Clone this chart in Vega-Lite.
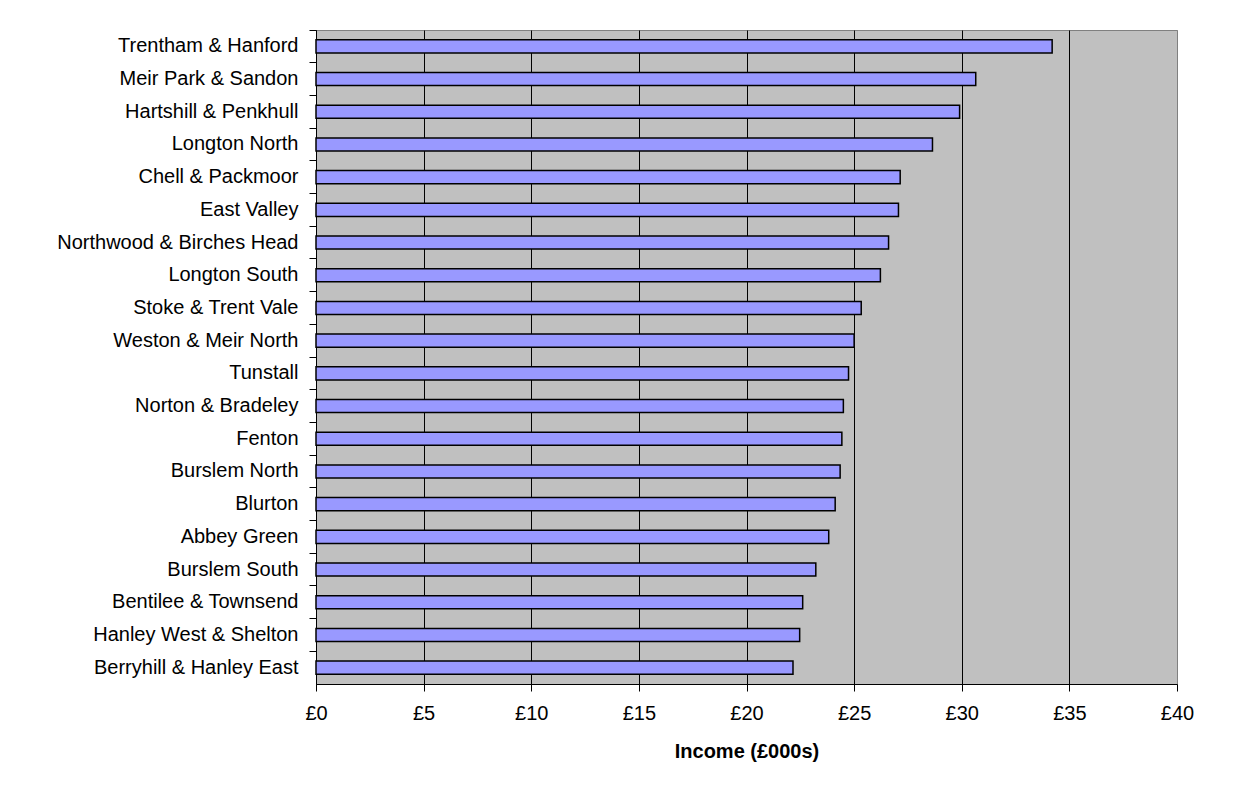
{
  "$schema": "https://vega.github.io/schema/vega-lite/v6.json",
  "width": 861,
  "height": 654,
  "padding": {"left": 56, "top": 29, "right": 5, "bottom": 5},
  "background": "white",
  "config": {
    "view": {"fill": "#C0C0C0", "stroke": "#808080", "strokeWidth": 1},
    "font": "Liberation Sans"
  },
  "data": {
    "values": [
      {"ward": "Trentham & Hanford", "income": 34.2},
      {"ward": "Meir Park & Sandon", "income": 30.65},
      {"ward": "Hartshill & Penkhull", "income": 29.9},
      {"ward": "Longton North", "income": 28.64},
      {"ward": "Chell & Packmoor", "income": 27.14},
      {"ward": "East Valley", "income": 27.06},
      {"ward": "Northwood & Birches Head", "income": 26.6},
      {"ward": "Longton South", "income": 26.22},
      {"ward": "Stoke & Trent Vale", "income": 25.33},
      {"ward": "Weston & Meir North", "income": 25.0},
      {"ward": "Tunstall", "income": 24.74},
      {"ward": "Norton & Bradeley", "income": 24.5},
      {"ward": "Fenton", "income": 24.43},
      {"ward": "Burslem North", "income": 24.35},
      {"ward": "Blurton", "income": 24.12},
      {"ward": "Abbey Green", "income": 23.82},
      {"ward": "Burslem South", "income": 23.22},
      {"ward": "Bentilee & Townsend", "income": 22.61},
      {"ward": "Hanley West & Shelton", "income": 22.47},
      {"ward": "Berryhill & Hanley East", "income": 22.16}
    ]
  },
  "mark": {
    "type": "bar",
    "fill": "#9999FF",
    "stroke": "black",
    "strokeWidth": 1.5,
    "height": {"band": 0.4}
  },
  "encoding": {
    "y": {
      "field": "ward",
      "type": "nominal",
      "sort": null,
      "scale": {"paddingInner": 0, "paddingOuter": 0},
      "axis": {
        "title": null,
        "bandPosition": 0,
        "grid": false,
        "labelFontSize": 20,
        "labelColor": "black",
        "labelFont": "Liberation Sans",
        "labelLimit": 0,
        "tickColor": "black",
        "tickSize": 7,
        "labelPadding": 11,
        "domainColor": "black"
      }
    },
    "x": {
      "field": "income",
      "type": "quantitative",
      "scale": {"domain": [0, 40], "nice": false},
      "axis": {
        "values": [0, 5, 10, 15, 20, 25, 30, 35, 40],
        "labelExpr": "'£' + datum.value",
        "title": "Income (£000s)",
        "titleFontSize": 20,
        "titleFontWeight": "bold",
        "titleColor": "black",
        "titlePadding": 18,
        "grid": true,
        "gridColor": {"condition": {"test": "datum.value === 40", "value": "#808080"}, "value": "black"},
        "gridOpacity": 1,
        "domainColor": "black",
        "tickColor": "black",
        "tickSize": 7,
        "labelFontSize": 20,
        "labelColor": "black",
        "labelPadding": 12,
        "labelFlush": false,
        "labelOverlap": false
      }
    }
  }
}
